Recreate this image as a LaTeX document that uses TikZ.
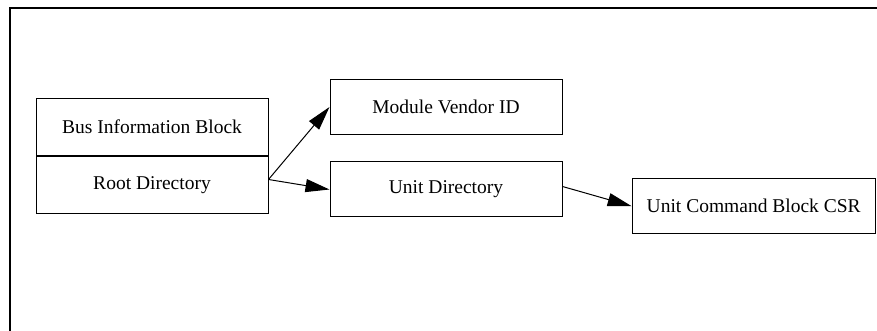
\documentclass[tikz,border=0pt]{standalone}
\usepackage{fontspec}
\setmainfont{Liberation Serif}
\usetikzlibrary{arrows.meta, positioning}

\begin{document}
\begin{tikzpicture}[
    x=1pt, y=1pt,
    node distance=26.5pt and 62pt,
    box/.style={draw, line width=1pt, inner sep=0pt, minimum width=232pt,
                minimum height=55pt, font=\fontsize{19.5}{23}\selectfont},
    rootbox/.style={box, minimum height=57pt},
    arr/.style={-{Triangle[length=24pt, width=13pt]}, line width=1pt}]
  \useasboundingbox (0,0) rectangle (877,331);
  % frame
  \draw[line width=2pt] (10,0) |- (877,323);
  \node[rootbox] (root) at (152,146) {Root Directory};
  \node[rootbox, above=0pt of root] (bus) {Bus Information Block};
  \node[box] (unit) at (446,141.5) {Unit Directory};
  \node[box, above=of unit] (vendor) {Module Vendor ID};
  \node[box, minimum width=243pt] (csr) at (753.7,124.8) {Unit Command Block CSR};
  \draw[arr] ([yshift=5.5pt]root.east) -- (vendor.west);
  \draw[arr] ([yshift=5.5pt]root.east) -- (unit.west);
  \draw[arr] ([yshift=3pt]unit.east) -- (csr.west);
\end{tikzpicture}
\end{document}
